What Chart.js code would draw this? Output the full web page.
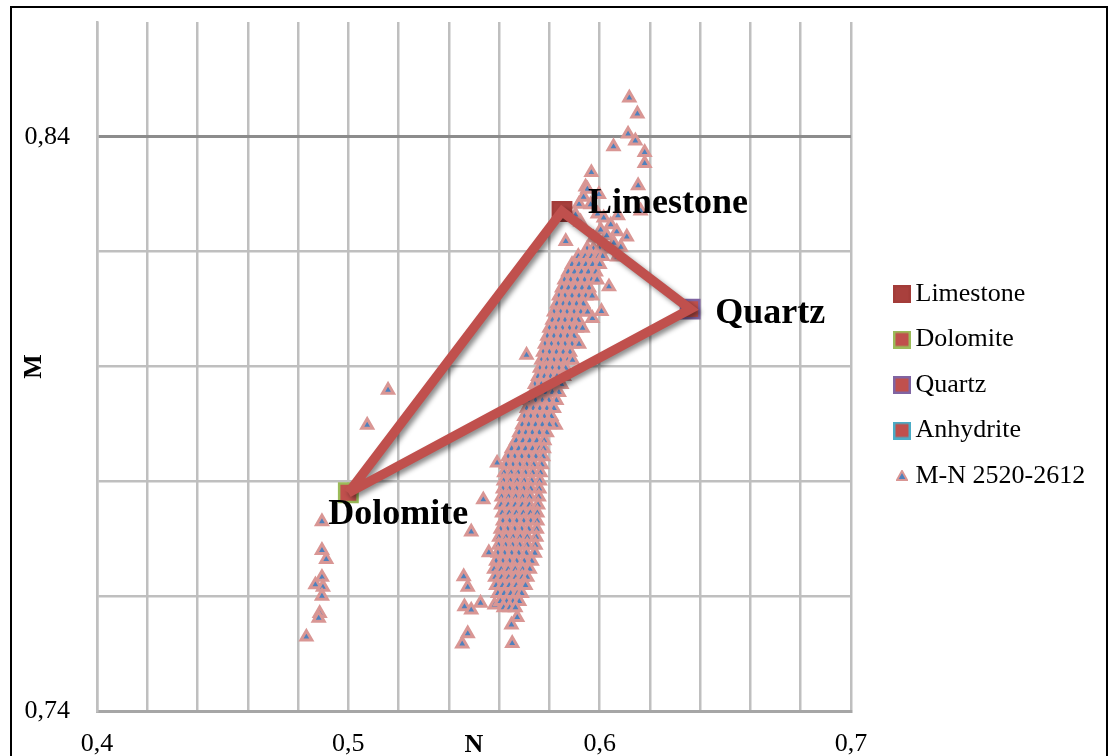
<!DOCTYPE html>
<html><head><meta charset="utf-8">
<script src="https://cdn.jsdelivr.net/npm/chart.js@4/dist/chart.umd.min.js"></script>
<style>
html,body{margin:0;padding:0;background:#fff;}
#wrap{position:relative;width:1112px;height:756px;overflow:hidden;background:#fff;}
#frame{position:absolute;left:10px;top:6px;width:1098px;height:820px;border:2px solid #000;box-sizing:border-box;pointer-events:none;}
canvas{position:absolute;left:0;top:0;}
</style></head><body>
<div id="wrap"><canvas id="c" width="1112" height="756"></canvas><div id="frame"></div></div>
<script>
// ---------- DATA ----------
const mineralNames = ['Limestone', 'Dolomite', 'Quartz', 'Anhydrite'];
const mineralN = [0.585, 0.500, 0.636, 0.505];
const mineralM = [0.827, 0.778, 0.810, 0.702];
const triangleOrder = [1, 0, 2, 1]; // Dolomite -> Limestone -> Quartz -> Dolomite
const sampleLabel = 'M-N 2520-2612';

const xLabelValues = [0.4, 0.5, 0.6, 0.7];
const yLabelValues = [0.74, 0.84];

// scattered samples, [N, M]
const samplesLeft = [
  [0.5158,0.7959],[0.5075,0.7898],[0.4895,0.7730],[0.4895,0.7680],[0.4912,0.7664],
  [0.4895,0.7633],[0.4869,0.7620],[0.4899,0.7616],[0.4895,0.7600],[0.4886,0.7570],
  [0.4882,0.7562],[0.4833,0.7529]
];
const samplesLow = [
  [0.5709,0.8020],[0.5592,0.7832],[0.5537,0.7768],[0.5489,0.7712],[0.5559,0.7676],
  [0.5459,0.7634],[0.5475,0.7616],[0.5526,0.7588],[0.5462,0.7582],[0.5489,0.7576],
  [0.5582,0.7585],[0.5672,0.7563],[0.5649,0.7550],[0.5475,0.7535],[0.5453,0.7517],
  [0.5652,0.7518],[0.5825,0.7898]
];
const samplesTop = [
  [0.6118,0.8468],[0.6150,0.8440],[0.6113,0.8405],[0.6142,0.8393],[0.6055,0.8383],
  [0.6179,0.8373],[0.6179,0.8354],[0.5967,0.8338],[0.6153,0.8315],[0.5944,0.8313],
  [0.5951,0.8309],[0.5997,0.8300],[0.5918,0.8283],[0.6073,0.8263],[0.6163,0.8271],
  [0.6068,0.8235],[0.6108,0.8226],[0.5865,0.8218],[0.5936,0.8295],[0.5964,0.8282],
  [0.5992,0.8266],[0.6016,0.8259],[0.6044,0.8247],[0.6004,0.8238],[0.5976,0.8224],
  [0.6028,0.8228],[0.6056,0.8215],[0.6084,0.8208],[0.5924,0.8252],[0.5904,0.8264],
  [0.6070,0.8191],[0.6037,0.8139],[0.6007,0.8096],[0.5971,0.8084]
];
// dense band: [M, [N values]]
const bandRows = [
  [0.8205,[0.5950,0.5975,0.6000,0.6025]],
  [0.8192,[0.5915,0.5942,0.5968,0.5995,0.6012]],
  [0.8178,[0.5890,0.5918,0.5945,0.5972,0.6000]],
  [0.8165,[0.5875,0.5900,0.5928,0.5955,0.5985]],
  [0.8151,[0.5860,0.5885,0.5912,0.5940,0.5968,0.5990]],
  [0.8137,[0.5850,0.5876,0.5903,0.5930,0.5958]],
  [0.8123,[0.5838,0.5862,0.5890,0.5918,0.5945,0.5970]],
  [0.8109,[0.5830,0.5855,0.5880,0.5908,0.5935]],
  [0.8095,[0.5818,0.5845,0.5870,0.5898,0.5925,0.5952]],
  [0.8081,[0.5812,0.5838,0.5862,0.5890,0.5915]],
  [0.8067,[0.5800,0.5826,0.5852,0.5880,0.5908,0.5932]],
  [0.8053,[0.5792,0.5818,0.5845,0.5872,0.5898]],
  [0.8039,[0.5782,0.5808,0.5835,0.5862,0.5890,0.5918]],
  [0.8025,[0.5775,0.5800,0.5828,0.5855,0.5882]],
  [0.8011,[0.5768,0.5792,0.5818,0.5845,0.5872,0.5892]],
  [0.7997,[0.5762,0.5788,0.5812,0.5838,0.5865]],
  [0.7983,[0.5755,0.5780,0.5805,0.5830,0.5858]],
  [0.7969,[0.5742,0.5768,0.5795,0.5820,0.5848]],
  [0.7955,[0.5735,0.5760,0.5786,0.5812,0.5838]],
  [0.7941,[0.5718,0.5745,0.5772,0.5798,0.5828]],
  [0.7927,[0.5710,0.5736,0.5762,0.5790,0.5818]],
  [0.7913,[0.5700,0.5726,0.5752,0.5780,0.5808]],
  [0.7899,[0.5692,0.5718,0.5745,0.5772,0.5800]],
  [0.7885,[0.5680,0.5706,0.5732,0.5760,0.5790]],
  [0.7871,[0.5668,0.5695,0.5722,0.5750,0.5780]],
  [0.7857,[0.5650,0.5678,0.5705,0.5733,0.5760,0.5778]],
  [0.7843,[0.5636,0.5662,0.5690,0.5718,0.5746,0.5775]],
  [0.7829,[0.5628,0.5655,0.5682,0.5710,0.5738,0.5770]],
  [0.7815,[0.5620,0.5648,0.5676,0.5705,0.5734,0.5765]],
  [0.7801,[0.5618,0.5645,0.5672,0.5700,0.5730,0.5762]],
  [0.7787,[0.5615,0.5642,0.5670,0.5698,0.5726,0.5760]],
  [0.7773,[0.5610,0.5638,0.5666,0.5694,0.5722,0.5758]],
  [0.7759,[0.5608,0.5636,0.5664,0.5692,0.5720,0.5755]],
  [0.7745,[0.5612,0.5640,0.5668,0.5696,0.5724,0.5752]],
  [0.7731,[0.5615,0.5642,0.5670,0.5698,0.5726,0.5752]],
  [0.7717,[0.5606,0.5634,0.5662,0.5690,0.5718,0.5750]],
  [0.7703,[0.5600,0.5628,0.5656,0.5684,0.5712,0.5748]],
  [0.7689,[0.5598,0.5626,0.5654,0.5682,0.5712,0.5745]],
  [0.7675,[0.5595,0.5622,0.5650,0.5678,0.5708,0.5742]],
  [0.7661,[0.5588,0.5615,0.5642,0.5670,0.5700,0.5730]],
  [0.7647,[0.5580,0.5608,0.5636,0.5664,0.5694,0.5722]],
  [0.7633,[0.5584,0.5610,0.5638,0.5665,0.5692,0.5712]],
  [0.7619,[0.5588,0.5614,0.5640,0.5668,0.5695,0.5705]],
  [0.7605,[0.5595,0.5620,0.5646,0.5672,0.5690]],
  [0.7591,[0.5605,0.5630,0.5655,0.5680]],
  [0.7580,[0.5618,0.5642,0.5665]]
];

// ---------- STYLES ----------
const mineralFill   = ['#A9403D', '#C0504D', '#C0504D', '#C0504D'];
const mineralBorder = ['#A33C39', '#9BBB59', '#8064A2', '#4BACC6'];
const labelOffsets  = {Limestone:[26,2], Dolomite:[-20,31], Quartz:[25,14]};
const SERIF = "'Liberation Serif', 'Times New Roman', serif";

// ---------- BUILD ----------
const samples = [
  ...samplesLeft, ...samplesLow, ...samplesTop,
  ...bandRows.flatMap(([m, ns]) => ns.map(n => [n, m]))
].map(([x, y]) => ({x, y}));

const triangleData = triangleOrder.map(i => ({x: mineralN[i], y: mineralM[i]}));

const mineralSets = mineralNames.map((name, i) => ({
  label: name,
  data: [{x: mineralN[i], y: mineralM[i]}],
  pointStyle: 'rect',
  pointRadius: 13,
  pointHoverRadius: 13,
  pointBackgroundColor: mineralFill[i],
  pointBorderColor: mineralBorder[i],
  pointBorderWidth: 2.5,
  order: 1
}));

function legendIcon(kind, fill, border) {
  const c = document.createElement('canvas');
  if (kind === 'rect') {
    c.width = 18; c.height = 18;
    const g = c.getContext('2d');
    g.fillStyle = border; g.fillRect(0, 0, 18, 18);
    g.fillStyle = fill; g.fillRect(2.5, 2.5, 13, 13);
  } else {
    c.width = 12; c.height = 12;
    const g = c.getContext('2d');
    g.beginPath(); g.moveTo(6, 1); g.lineTo(11, 10); g.lineTo(1, 10); g.closePath();
    g.fillStyle = '#4F81BD'; g.strokeStyle = '#D99694'; g.lineWidth = 2;
    g.fill(); g.stroke();
  }
  return c;
}

const near = (v, arr) => arr.some(a => Math.abs(v - a) < 1e-6);
const fmt = v => v.toFixed(2).replace(/0$/, '').replace('.', ',');

const shadowPlugin = {
  id: 'lineShadow',
  beforeDatasetDraw(chart, args) {
    if (args.index === 0) {
      const c = chart.ctx; c.save();
      c.shadowColor = 'rgba(0,0,0,0.45)'; c.shadowBlur = 5;
      c.shadowOffsetX = 3; c.shadowOffsetY = 3;
    }
  },
  afterDatasetDraw(chart, args) { if (args.index === 0) chart.ctx.restore(); }
};

const labelPlugin = {
  id: 'mineralLabels',
  afterDatasetsDraw(chart) {
    const c = chart.ctx, xs = chart.scales.x, ys = chart.scales.y;
    c.save();
    c.font = "bold 36px " + SERIF;
    c.fillStyle = '#000'; c.textAlign = 'left'; c.textBaseline = 'alphabetic';
    mineralNames.forEach((name, i) => {
      const off = labelOffsets[name];
      if (!off) return;
      c.fillText(name, xs.getPixelForValue(mineralN[i]) + off[0], ys.getPixelForValue(mineralM[i]) + off[1]);
    });
    c.restore();
  }
};

const LEGEND_X = 901.5, LEGEND_Y = 294;
const legendPlace = {
  id: 'legendPlace',
  afterLayout(chart) {
    const L = chart.legend; if (!L) return;
    const pad = L.options.labels.padding, fs = L.options.labels.font.size;
    const dx = LEGEND_X - (L.left + pad);
    L.left += dx; L.right = L.left + 240; L.width = 240;
    const colH = L.columnSizes[0].height;
    const y0 = (L.top + pad + L.bottom - colH) / 2 + fs / 2;
    const dy = LEGEND_Y - y0;
    L.top += dy; L.bottom += dy;
  }
};

const noPad = s => { s.paddingTop = 0; s.paddingBottom = 0; s.paddingLeft = 0; s.paddingRight = 0; };

new Chart(document.getElementById('c'), {
  type: 'scatter',
  data: {
    datasets: [
      {label: 'triangle', data: triangleData, showLine: true, borderColor: '#C0504D',
       borderWidth: 9.5, pointRadius: 0, pointHoverRadius: 0, tension: 0,
       borderCapStyle: 'butt', borderJoinStyle: 'miter', order: 0},
      ...mineralSets,
      {label: sampleLabel, data: samples, pointStyle: 'triangle', pointRadius: 6.3,
       pointHoverRadius: 6.3, pointBackgroundColor: '#4F81BD', pointBorderColor: '#D99694',
       pointBorderWidth: 3, order: 2}
    ]
  },
  options: {
    responsive: false, animation: false, devicePixelRatio: 1,
    layout: {padding: {top: 22, right: 61, left: 0, bottom: 0}},
    events: [],
    plugins: {
      tooltip: {enabled: false},
      legend: {
        position: 'right', maxWidth: 200,
        labels: {
          usePointStyle: true, boxWidth: 1, boxHeight: 18, padding: 19.5,
          color: '#000', font: {family: SERIF, size: 26},
          generateLabels: chart => {
            const items = mineralNames.map((name, i) => ({
              text: name, pointStyle: legendIcon('rect', mineralFill[i], mineralBorder[i]),
              fillStyle: mineralFill[i], strokeStyle: mineralBorder[i], lineWidth: 0,
              hidden: false, datasetIndex: i + 1, fontColor: '#000'
            }));
            items.push({text: sampleLabel, pointStyle: legendIcon('tri'), fillStyle: '#4F81BD',
              strokeStyle: '#D99694', lineWidth: 0, hidden: false, datasetIndex: 5, fontColor: '#000'});
            return items;
          }
        }
      }
    },
    scales: {
      x: {
        type: 'linear', min: 0.4, max: 0.7,
        afterFit: s => { s.height = 45; noPad(s); },
        ticks: {stepSize: 0.02, autoSkip: false, maxRotation: 0, padding: 18,
          color: '#000', font: {family: SERIF, size: 26},
          callback: v => near(v, xLabelValues) ? fmt(v) : ''},
        grid: {drawTicks: false, color: '#BFBFBF', lineWidth: 2.5},
        border: {color: '#A6A6A6', width: 3},
        title: {display: true, text: 'N', color: '#000', padding: {top: 0, bottom: -5},
          font: {family: SERIF, size: 26, weight: 'bold'}}
      },
      y: {
        type: 'linear', min: 0.74, max: 0.86,
        afterFit: s => { s.width = 97; noPad(s); },
        ticks: {stepSize: 0.02, autoSkip: false, padding: 27,
          color: '#000', font: {family: SERIF, size: 26},
          callback: v => near(v, yLabelValues) ? fmt(v) : ''},
        grid: {drawTicks: false,
          color: c => (c.tick && Math.abs(c.tick.value - 0.86) < 1e-6) ? 'rgba(0,0,0,0)'
                 : (c.tick && near(c.tick.value, [0.84])) ? '#8C8C8C' : '#BFBFBF',
          lineWidth: c => (c.tick && near(c.tick.value, [0.84])) ? 3 : 2.5},
        border: {color: '#BFBFBF', width: 2.5},
        title: {display: true, text: 'M', color: '#000', padding: {top: 19, bottom: 0},
          font: {family: SERIF, size: 26, weight: 'bold'}}
      }
    }
  },
  plugins: [shadowPlugin, labelPlugin, legendPlace]
});
</script>
</body></html>
